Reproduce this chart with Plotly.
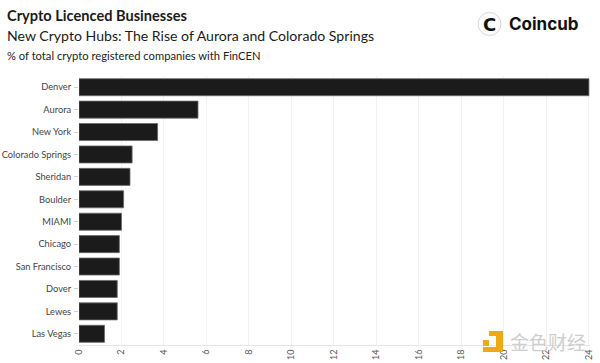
import plotly.graph_objects as go

cities = ["Denver", "Aurora", "New York", "Colorado Springs", "Sheridan", "Boulder",
          "MIAMI", "Chicago", "San Francisco", "Dover", "Lewes", "Las Vegas"]
share = [24.0, 5.6, 3.7, 2.5, 2.4, 2.1, 2.0, 1.9, 1.9, 1.8, 1.8, 1.2]
x_ticks = list(range(0, 25, 2))

W, H = 600, 363
L, R, T, B = 79, 10, 76, 18
pw, ph = W - L - R, H - T - B

def px(x):
    return (x - L) / pw

def py(y):
    return (H - B - y) / ph

FONT = "Lato"

fig = go.Figure(go.Bar(
    x=share, y=cities, orientation="h",
    marker=dict(color="#1b1b1b", line=dict(color="#6a6a6a", width=0.8)),
    hoverinfo="x+y",
))

fig.update_layout(
    width=W, height=H,
    margin=dict(l=L, r=R, t=T, b=B, autoexpand=False),
    paper_bgcolor="white", plot_bgcolor="white",
    bargap=0.24,
    showlegend=False,
    font=dict(family=FONT, color="#444"),
    xaxis=dict(range=[0, 24.05], tickvals=x_ticks, ticktext=[str(v) for v in x_ticks],
               tickangle=-90, tickfont=dict(size=9, color="#555"),
               showgrid=True, gridcolor="#f2f2f2", gridwidth=1,
               showline=True, linecolor="#e6e6e6", zeroline=False,
               ticks="", automargin=False, fixedrange=True),
    yaxis=dict(categoryorder="array", categoryarray=cities[::-1],
               tickfont=dict(size=9.3, color="#444"),
               ticks="outside", ticklen=4, tickcolor="#d0d0d0", ticklabelstandoff=1,
               showgrid=False, showline=False, automargin=False, fixedrange=True),
)

ann = [
    dict(text="<b>Crypto Licenced Businesses</b>", x=px(5), y=py(16), size=14.6, color="#1a1a1a"),
    dict(text="New Crypto Hubs: The Rise of Aurora and Colorado Springs", x=px(5), y=py(35), size=14.1, color="#1a1a1a"),
    dict(text="% of total crypto registered companies with FinCEN", x=px(5), y=py(55), size=11.2, color="#222"),
]
for a in ann:
    fig.add_annotation(text=a["text"], x=a["x"], y=a["y"], xref="paper", yref="paper",
                       xanchor="left", yanchor="middle", showarrow=False,
                       font=dict(family=FONT, size=a["size"], color=a["color"]))

# Coincub logo
fig.add_shape(type="circle", xref="paper", yref="paper",
              x0=px(478), x1=px(501), y0=py(35.5), y1=py(12.5),
              line=dict(color="#d8d8d8", width=1), fillcolor="white")
fig.add_annotation(text="<b>C</b>", x=px(489.5), y=py(24), xref="paper", yref="paper",
                   showarrow=False, xanchor="center", yanchor="middle",
                   font=dict(family="DejaVu Sans", size=18, color="#111"))
fig.add_annotation(text="<b>Coincub</b>", x=px(507), y=py(24), xref="paper", yref="paper",
                   showarrow=False, xanchor="left", yanchor="middle",
                   font=dict(family="Inter", size=17, color="#111"))

# watermark
YEL = "#f0a818"
for (x0, x1, y0, y1) in [(483, 489, 340, 346), (496, 503, 331, 352),
                         (483, 503, 347, 352), (489, 503, 331, 336)]:
    fig.add_shape(type="rect", xref="paper", yref="paper",
                  x0=px(x0), x1=px(x1), y0=py(y1), y1=py(y0),
                  line=dict(width=0), fillcolor=YEL)
fig.add_annotation(text="金色财经", x=px(508), y=py(341), xref="paper", yref="paper",
                   showarrow=False, xanchor="left", yanchor="middle",
                   font=dict(family="Noto Sans CJK SC", size=19, color="rgba(200,200,200,0.9)"))

fig.write_html("out.html", config={"displayModeBar": False},
               post_script="document.body.style.margin='0';document.body.style.overflow='hidden';")
